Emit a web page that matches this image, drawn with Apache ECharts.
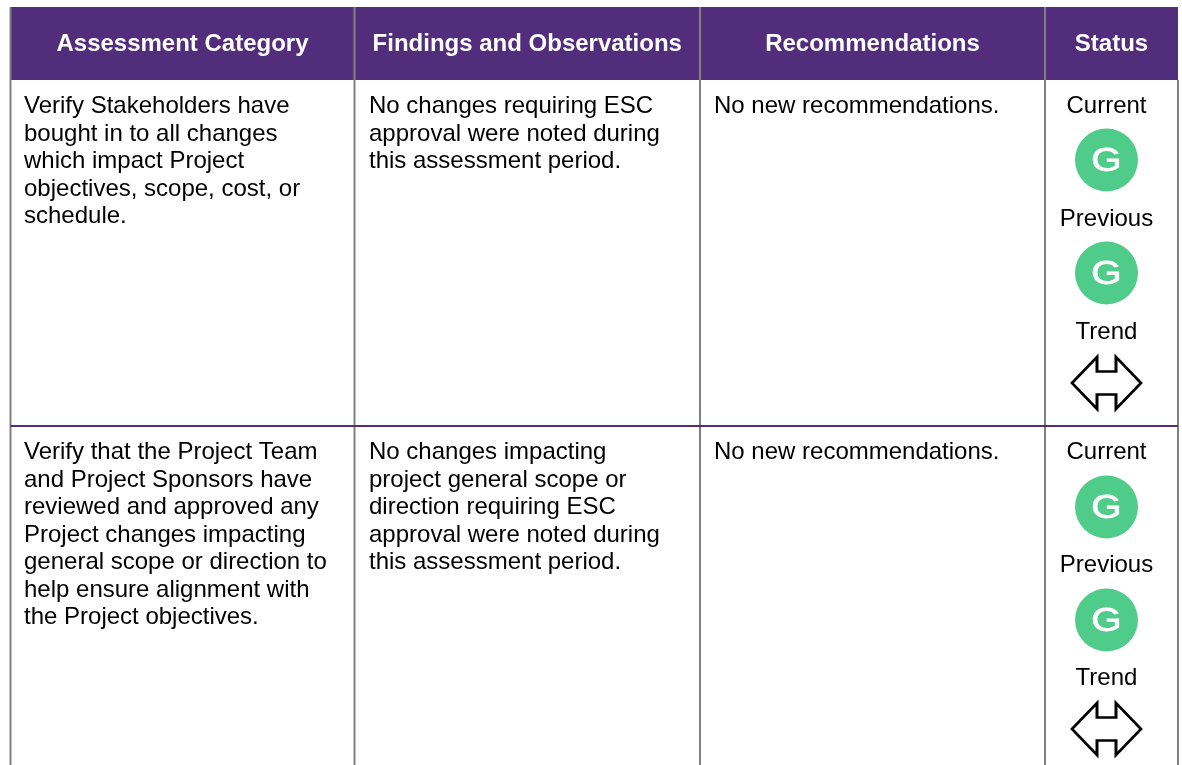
<!DOCTYPE html>
<html><head><meta charset="utf-8">
<style>html,body{margin:0;padding:0;background:#fff}#c{width:1182px;height:765px}</style>
<script src="https://cdn.jsdelivr.net/npm/echarts@6/dist/echarts.min.js"></script></head>
<body><div id="c"></div>
<script>
const headers = ['Assessment Category','Findings and Observations','Recommendations','Status'];
const categoryText = [
 ['Verify Stakeholders have','bought in to all changes','which impact Project','objectives, scope, cost, or','schedule.'],
 ['Verify that the Project Team','and Project Sponsors have','reviewed and approved any','Project changes impacting','general scope or direction to','help ensure alignment with','the Project objectives.']
];
const findingsText = [
 ['No changes requiring ESC','approval were noted during','this assessment period.'],
 ['No changes impacting','project general scope or','direction requiring ESC','approval were noted during','this assessment period.']
];
const recommendationsText = [['No new recommendations.'],['No new recommendations.']];
const statusLabels = ['Current','Previous','Trend'];
const statusGrades = [['G','G'],['G','G']];

const colX = [10.5,354.5,700,1045,1178];
const headTop = 7, headBottom = 80, rowTop = [80,426], rowBottom = [426,765];
const lineH = 27.55, fs = 24, font = '"Liberation Sans", Arial, sans-serif';
const PURPLE = '#512d7c', GREY = '#808080', GREEN = '#4fcb8a';
const arrow = 'path://M0,26 L25,0 L25,14.5 L44,14.5 L44,0 L69,26 L44,52 L44,37.5 L25,37.5 L25,52 Z';
const textX = [24,369,714];
const statusX = 1106.5;

const bodyTexts = [];
[categoryText,findingsText,recommendationsText].forEach((col,c)=>col.forEach((row,r)=>row.forEach((t,i)=>
  bodyTexts.push({x:textX[c],y:rowTop[r]+26.5+i*lineH,t}))));
const labelPts = [], circlePts = [], arrowPts = [];
[0,1].forEach(r=>{
  const o = rowTop[r];
  statusLabels.forEach((t,i)=>labelPts.push({x:statusX,y:o+26.5+i*113,t}));
  statusGrades[r].forEach((g,i)=>circlePts.push({value:[statusX,o+80+r+i*113],g}));
  arrowPts.push([statusX,o+303]);
});

const chart = echarts.init(document.getElementById('c'),null,{renderer:'canvas'});
chart.setOption({
  animation:false, backgroundColor:'#fff',
  grid:{left:0,right:0,top:0,bottom:0},
  xAxis:{type:'value',min:0,max:1182,show:false},
  yAxis:{type:'value',min:0,max:765,inverse:true,show:false},
  series:[
   {type:'custom',coordinateSystem:'cartesian2d',silent:true,z:1,clip:false,
    data:[[0]],
    renderItem:(p,api)=>{
      const ch=[];
      const P=(x,y)=>api.coord([x,y]);
      const rect=(x0,y0,x1,y1,fill)=>{const a=P(x0,y0),b=P(x1,y1);ch.push({type:'rect',shape:{x:a[0],y:a[1],width:b[0]-a[0],height:b[1]-a[1]},style:{fill}});};
      const line=(x0,y0,x1,y1,stroke,w)=>{const a=P(x0,y0),b=P(x1,y1);ch.push({type:'line',shape:{x1:a[0],y1:a[1],x2:b[0],y2:b[1]},style:{stroke,lineWidth:w}});};
      rect(colX[0],headTop,colX[4],headBottom,PURPLE);
      colX.slice(0,4).forEach(x=>line(x,headTop,x,765,GREY,2));
      line(colX[4],80,colX[4],765,GREY,2);
      line(colX[0],rowTop[1],colX[4],rowTop[1],PURPLE,2);
      headers.forEach((t,i)=>{const a=P((colX[i]+colX[i+1])/2,44);
        ch.push({type:'text',style:{x:a[0],y:a[1],text:t,fill:'#fff',font:`bold ${fs}px ${font}`,align:'center',verticalAlign:'middle'}});});
      bodyTexts.forEach(d=>{const a=P(d.x,d.y);
        ch.push({type:'text',style:{x:a[0],y:a[1],text:d.t,fill:'#000',font:`${fs}px ${font}`,align:'left',verticalAlign:'middle'}});});
      labelPts.forEach(d=>{const a=P(d.x,d.y);
        ch.push({type:'text',style:{x:a[0],y:a[1],text:d.t,fill:'#000',font:`${fs}px ${font}`,align:'center',verticalAlign:'middle'}});});
      return {type:'group',children:ch};
    }},
   {type:'scatter',silent:true,z:2,symbol:'circle',symbolSize:63,data:circlePts,
    itemStyle:{color:GREEN,opacity:1}},
   {type:'custom',coordinateSystem:'cartesian2d',silent:true,z:4,clip:false,
    data:circlePts,
    renderItem:(p,api)=>{
      const a=api.coord([api.value(0),api.value(1)]);
      return {type:'text',x:a[0],y:a[1]+2,scaleX:1.18,scaleY:1,
        style:{x:0,y:0,text:circlePts[p.dataIndex].g,fill:'#fff',stroke:'#fff',lineWidth:0.8,font:`33px ${font}`,align:'center',verticalAlign:'middle'}};
    }},
   {type:'scatter',silent:true,z:3,symbol:arrow,symbolSize:[69,52],symbolKeepAspect:false,data:arrowPts,
    itemStyle:{color:'#fff',opacity:1,borderColor:'#000',borderWidth:2.6}}
  ]
});
</script></body></html>
